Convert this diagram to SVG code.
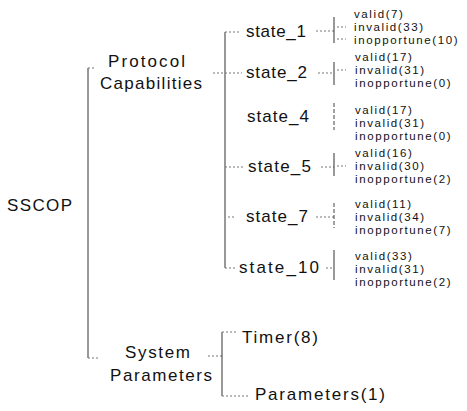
<svg xmlns="http://www.w3.org/2000/svg" width="467" height="411" viewBox="0 0 467 411">
<style>
text{font-family:"Liberation Sans",Arial,sans-serif;fill:#111}
.big{font-size:17px}
.lbl{font-size:11.5px;letter-spacing:1.6px}
.v{stroke:#333;stroke-width:1;fill:none}
.vd{stroke:#444;stroke-width:1;stroke-dasharray:4 2;fill:none}
.d{stroke:#777;stroke-width:1;stroke-dasharray:2 2;fill:none}
</style>
<rect width="467" height="411" fill="#fff"/>
<g id="connectors">
<path class="v" d="M88 68V358"/>
<path class="d" d="M88 68H95M88 358H98"/>
<path class="d" d="M213 73H225"/>
<path class="v" d="M225 32V268"/>
<path class="d" d="M225 32H240M225 73H242M225 167H244M228 217H236M225 268H236"/>
<path class="d" d="M208 356H222"/>
<path class="v" d="M222 332V396"/>
<path class="d" d="M222 332H238M222 396H250"/>
<path class="d" d="M316 31H334M318 73H334M321 167H334M316 217H334M326 268H334"/>
<path class="v" d="M334 17V43M334 62V85M334 153V176M334 250V280"/>
<path class="vd" d="M334 103V130M334 203V228"/>
<path class="d" d="M337 27H346M337 39H346M337 70H346M337 166H346"/>
</g>
<g id="sscop"><text class="big" x="7" y="211" textLength="65" lengthAdjust="spacing">SSCOP</text></g>
<g id="protocol-capabilities">
<text class="big" x="108" y="67" textLength="77" lengthAdjust="spacing">Protocol</text>
<text class="big" x="100" y="89" textLength="102" lengthAdjust="spacing">Capabilities</text>
</g>
<g id="system-parameters">
<text class="big" x="125" y="358" textLength="65" lengthAdjust="spacing">System</text>
<text class="big" x="110" y="381" textLength="102" lengthAdjust="spacing">Parameters</text>
</g>
<g id="state_1">
<text class="big" x="246" y="37" textLength="60" lengthAdjust="spacing">state_1</text>
<text class="lbl" x="354" y="18">valid(7)</text>
<text class="lbl" x="354" y="31">invalid(33)</text>
<text class="lbl" x="354" y="44">inopportune(10)</text>
</g>
<g id="state_2">
<text class="big" x="246" y="78" textLength="61" lengthAdjust="spacing">state_2</text>
<text class="lbl" x="355" y="61">valid(17)</text>
<text class="lbl" x="355" y="74">invalid(31)</text>
<text class="lbl" x="355" y="87">inopportune(0)</text>
</g>
<g id="state_4">
<text class="big" x="247" y="122" textLength="62" lengthAdjust="spacing">state_4</text>
<text class="lbl" x="355" y="114">valid(17)</text>
<text class="lbl" x="355" y="127">invalid(31)</text>
<text class="lbl" x="355" y="140">inopportune(0)</text>
</g>
<g id="state_5">
<text class="big" x="248" y="172" textLength="63" lengthAdjust="spacing">state_5</text>
<text class="lbl" x="355" y="157">valid(16)</text>
<text class="lbl" x="355" y="170">invalid(30)</text>
<text class="lbl" x="355" y="183">inopportune(2)</text>
</g>
<g id="state_7">
<text class="big" x="246" y="222" textLength="62" lengthAdjust="spacing">state_7</text>
<text class="lbl" x="355" y="208">valid(11)</text>
<text class="lbl" x="355" y="221">invalid(34)</text>
<text class="lbl" x="355" y="234">inopportune(7)</text>
</g>
<g id="state_10">
<text class="big" x="239" y="273" textLength="80" lengthAdjust="spacing">state_10</text>
<text class="lbl" x="355" y="260">valid(33)</text>
<text class="lbl" x="355" y="273">invalid(31)</text>
<text class="lbl" x="355" y="286">inopportune(2)</text>
</g>
<g id="timer"><text class="big" x="242" y="343" textLength="76" lengthAdjust="spacing">Timer(8)</text></g>
<g id="parameters"><text class="big" x="255" y="400" textLength="130" lengthAdjust="spacing">Parameters(1)</text></g>
</svg>
